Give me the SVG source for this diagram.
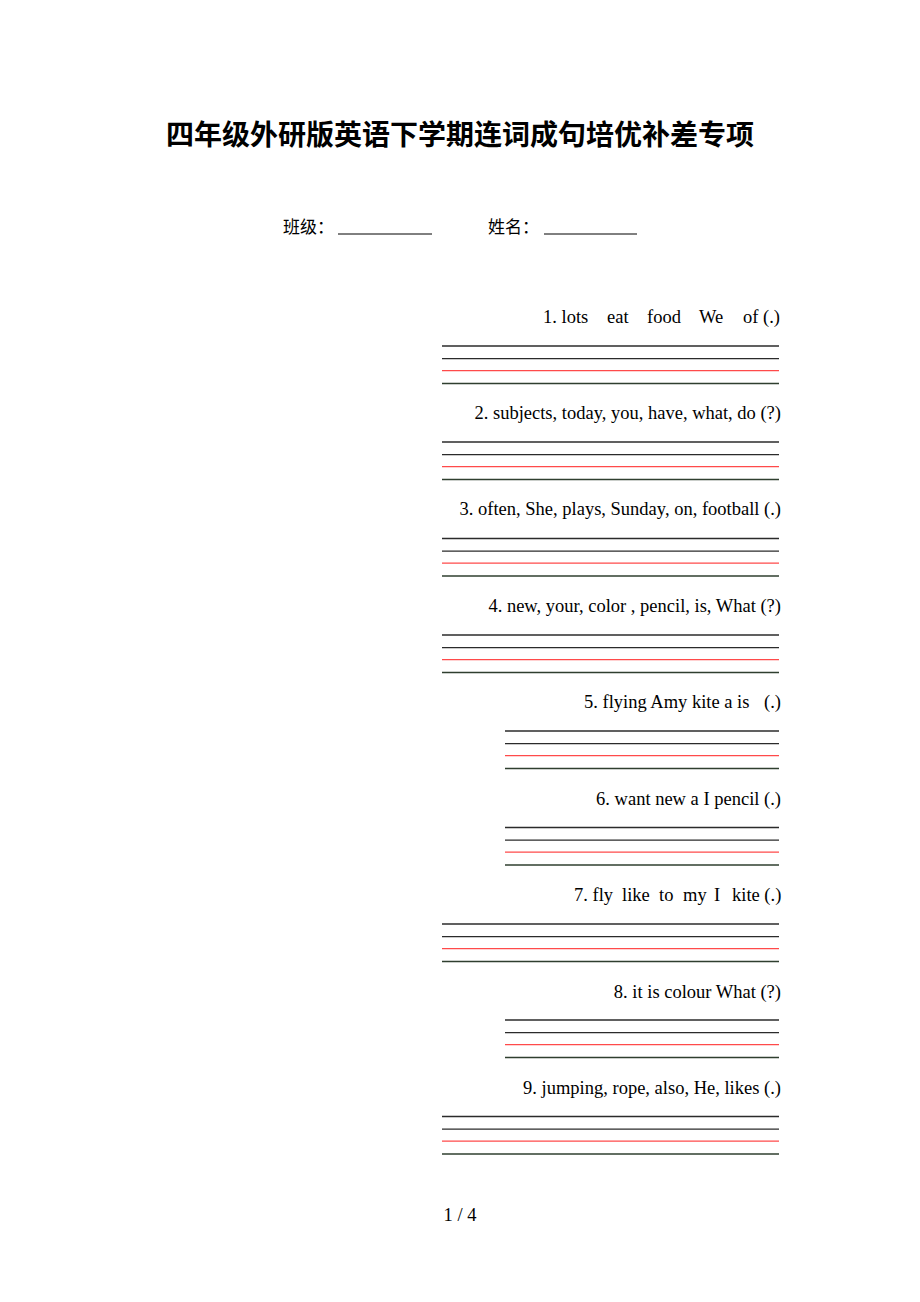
<svg xmlns="http://www.w3.org/2000/svg" width="920" height="1302" viewBox="0 0 920 1302">
<style>
.t{font-family:"Liberation Serif","Times New Roman",serif;font-size:18.5px;fill:#000}
.cj{font-family:"Noto Sans CJK SC",sans-serif;fill:#000}
.d{stroke:#2b2b2b;stroke-width:1.3}
.g{stroke:#2f3f2f;stroke-width:1.3}
.r{stroke:#ff4a4a;stroke-width:1.3}
</style>
<rect width="920" height="1302" fill="#fff"/>
<g id="title"><text class="cj" x="460" y="145" text-anchor="middle" font-size="28" font-weight="bold">四年级外研版英语下学期连词成句培优补差专项</text></g>
<g id="header">
<text class="cj" x="283" y="233" font-size="17">班级：</text>
<line x1="338" y1="234" x2="432" y2="234" stroke="#000" stroke-width="1"/>
<text class="cj" x="488" y="233" font-size="17">姓名：</text>
<line x1="544" y1="234" x2="637" y2="234" stroke="#000" stroke-width="1"/>
</g>
<defs>
<g id="L"><line class="d" x1="442" y1="0" x2="779" y2="0"/><line class="d" x1="442" y1="12.7" x2="779" y2="12.7"/><line class="r" x1="442" y1="24.7" x2="779" y2="24.7"/><line class="g" x1="442" y1="37.5" x2="779" y2="37.5"/></g>
<g id="S"><line class="d" x1="505" y1="0" x2="779" y2="0"/><line class="d" x1="505" y1="12.7" x2="779" y2="12.7"/><line class="r" x1="505" y1="24.7" x2="779" y2="24.7"/><line class="g" x1="505" y1="37.5" x2="779" y2="37.5"/></g>
</defs>
<g id="q1"><text class="t" y="323"><tspan x="543">1. lots</tspan><tspan x="607">eat</tspan><tspan x="647">food</tspan><tspan x="699">We</tspan><tspan x="743">of (.)</tspan></text><use href="#L" y="346"/></g>
<g id="q2"><text class="t" x="781" y="419" text-anchor="end">2. subjects, today, you, have, what, do (?)</text><use href="#L" y="442"/></g>
<g id="q3"><text class="t" x="781" y="515" text-anchor="end">3. often, She, plays, Sunday, on, football (.)</text><use href="#L" y="538.5"/></g>
<g id="q4"><text class="t" x="781" y="612" text-anchor="end">4. new, your, color , pencil, is, What (?)</text><use href="#L" y="635"/></g>
<g id="q5"><text class="t" y="708"><tspan x="584">5. flying Amy kite a is</tspan><tspan x="764">(.)</tspan></text><use href="#S" y="731"/></g>
<g id="q6"><text class="t" x="781" y="805" text-anchor="end">6. want new a I pencil (.)</text><use href="#S" y="827.5"/></g>
<g id="q7"><text class="t" y="901"><tspan x="574">7. fly</tspan><tspan x="622">like</tspan><tspan x="659">to</tspan><tspan x="683">my</tspan><tspan x="714">I</tspan><tspan x="732">kite (.)</tspan></text><use href="#L" y="924"/></g>
<g id="q8"><text class="t" x="781" y="998" text-anchor="end">8. it is colour What (?)</text><use href="#S" y="1020"/></g>
<g id="q9"><text class="t" x="781" y="1094" text-anchor="end">9. jumping, rope, also, He, likes (.)</text><use href="#L" y="1116.5"/></g>
<g id="page"><text class="t" x="460" y="1221" text-anchor="middle">1 / 4</text></g>
</svg>
